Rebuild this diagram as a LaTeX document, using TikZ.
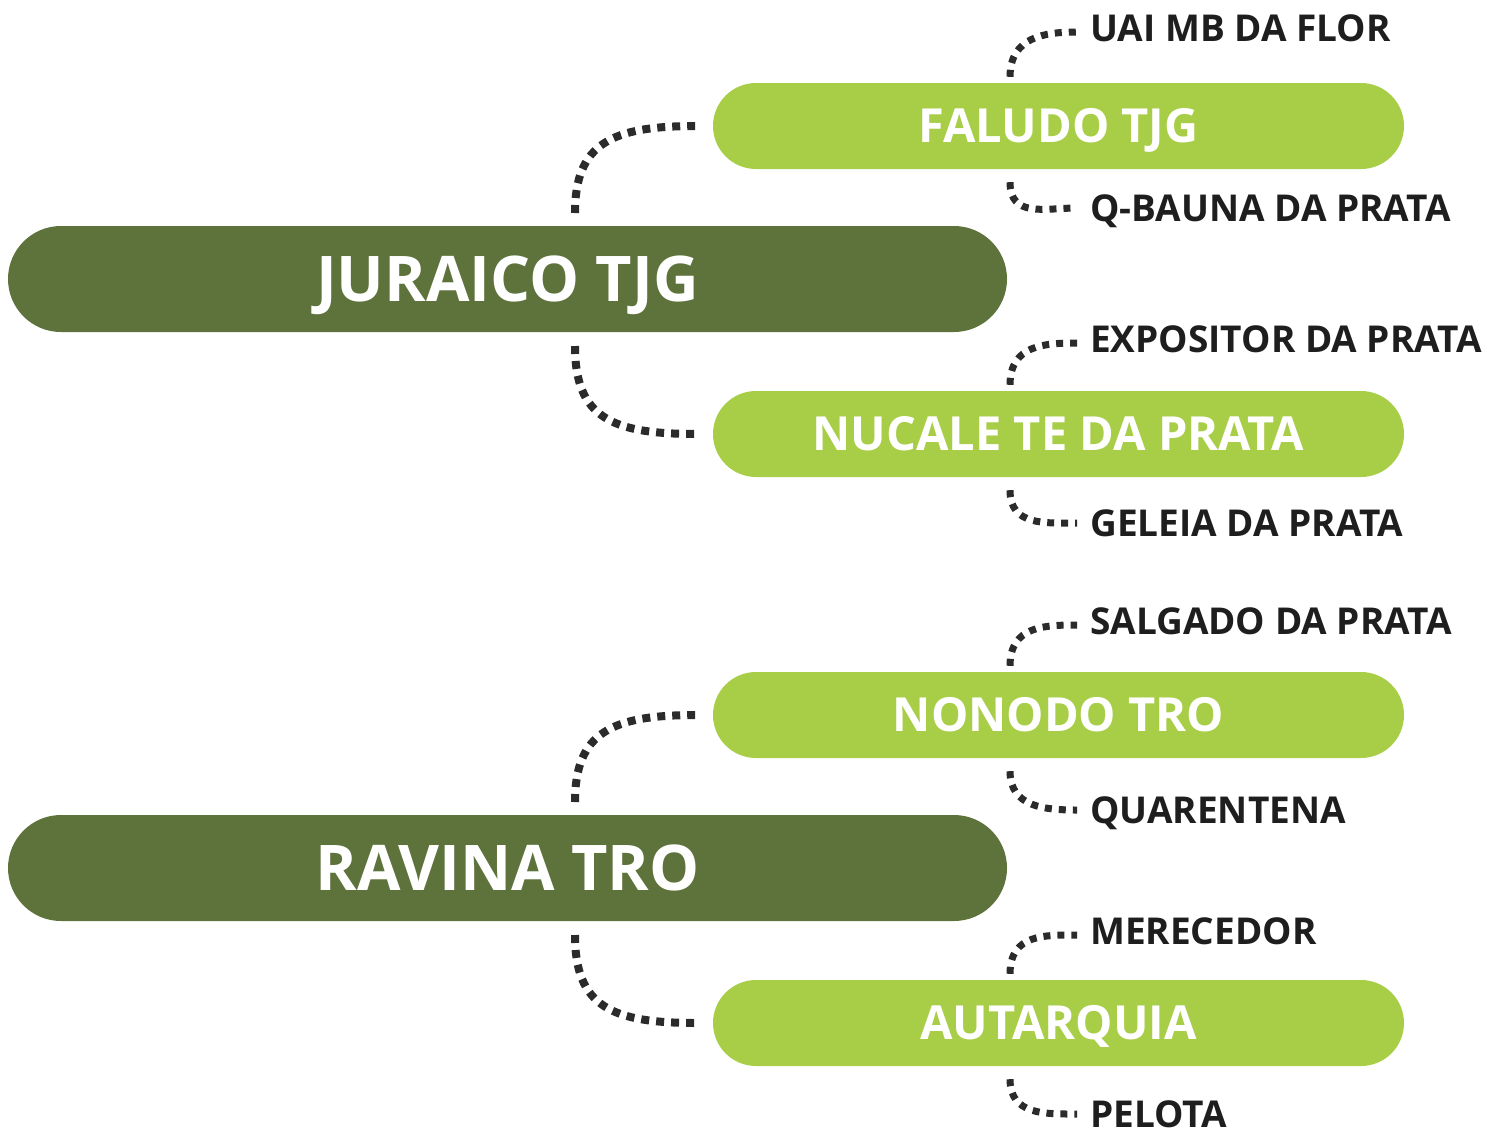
\documentclass[tikz,border=0pt]{standalone}
\usepackage{fontspec}
\setmainfont{Open Sans}
\definecolor{darkg}{HTML}{5E723B}
\definecolor{lightg}{HTML}{A8CE48}
\definecolor{dotc}{HTML}{2B2B2B}
\definecolor{leafc}{HTML}{1E1E1E}
\tikzset{
  darkpill/.style={fill=darkg, rounded corners=53pt, minimum width=999pt, minimum height=106pt, inner sep=0pt, text=white, text height=45pt, text depth=0pt, font=\fontsize{63}{63}\selectfont\bfseries},
  lightpill/.style={fill=lightg, rounded corners=43pt, minimum width=691pt, minimum height=86pt, inner sep=0pt, text=white, text height=33.5pt, text depth=0pt, font=\fontsize{47}{47}\selectfont\bfseries},
  leaf/.style={anchor=west, inner sep=0pt, text=leafc, text height=26.4pt, text depth=0pt, font=\fontsize{37}{37}\selectfont\bfseries},
  dotline/.style={draw=dotc, line width=8pt, dash pattern=on 8pt off 7pt, line cap=butt},
  leafline/.style={draw=dotc, line width=7pt, dash pattern=on 7pt off 7pt, line cap=butt}
}
\begin{document}
\begin{tikzpicture}[x=1pt,y=-1pt]
\useasboundingbox (0,0) rectangle (1496,1135);
% group 1
\node[darkpill] (J) at (507.5,279) {JURAICO TJG};
\node[lightpill] (F) at (1058.5,126) {FALUDO TJG};
\node[lightpill] (N) at (1058.5,434) {NUCALE TE DA PRATA};
\node[leaf] (l1) at (1090,28) {UAI MB DA FLOR};
\node[leaf] (l2) at (1090,208) {Q-BAUNA DA PRATA};
\node[leaf] (l3) at (1090,339) {EXPOSITOR DA PRATA};
\node[leaf] (l4) at (1090,523) {GELEIA DA PRATA};
% group 2
\node[darkpill] (R) at (507.5,868) {RAVINA TRO};
\node[lightpill] (O) at (1058.5,715) {NONODO TRO};
\node[lightpill] (A) at (1058.5,1023) {AUTARQUIA};
\node[leaf] (l5) at (1090,621) {SALGADO DA PRATA};
\node[leaf] (l6) at (1090,810) {QUARENTENA};
\node[leaf] (l7) at (1090,931) {MERECEDOR};
\node[leaf] (l8) at (1090,1114) {PELOTA};
% connector coordinates
\coordinate (upJ) at (575,213);
\coordinate (dnJ) at (575,346);
\coordinate (upR) at (575,802);
\coordinate (dnR) at (575,935);
\foreach \q in {F,N,O,A} {
  \coordinate (in\q) at ([xshift=-16pt]\q.west);
}
\draw[dotline] (upJ) .. controls ([yshift=70pt]upJ) and ([xshift=-85pt]inF) .. (inF);
\draw[dotline] (dnJ) .. controls ([yshift=-72pt]dnJ) and ([xshift=-85pt]inN) .. (inN);
\draw[dotline] (upR) .. controls ([yshift=70pt]upR) and ([xshift=-85pt]inO) .. (inO);
\draw[dotline] (dnR) .. controls ([yshift=-72pt]dnR) and ([xshift=-85pt]inA) .. (inA);
% leaf connectors
\foreach \b/\u/\d in {F/l1/l2, N/l3/l4, O/l5/l6, A/l7/l8} {
  \coordinate (top\b) at ([xshift=-48.5pt,yshift=6pt]\b.north);
  \coordinate (bot\b) at ([xshift=-48.5pt,yshift=-13pt]\b.south);
  \draw[leafline] (top\b) .. controls ([yshift=40pt]top\b) and ([xshift=-45pt,yshift=-4pt]\u.west) .. ([xshift=-13pt,yshift=-4pt]\u.west);
  \draw[leafline] (bot\b) .. controls ([yshift=-36pt]bot\b) and ([xshift=-45pt]\d.west) .. ([xshift=-13pt]\d.west);
}
\end{tikzpicture}
\end{document}
